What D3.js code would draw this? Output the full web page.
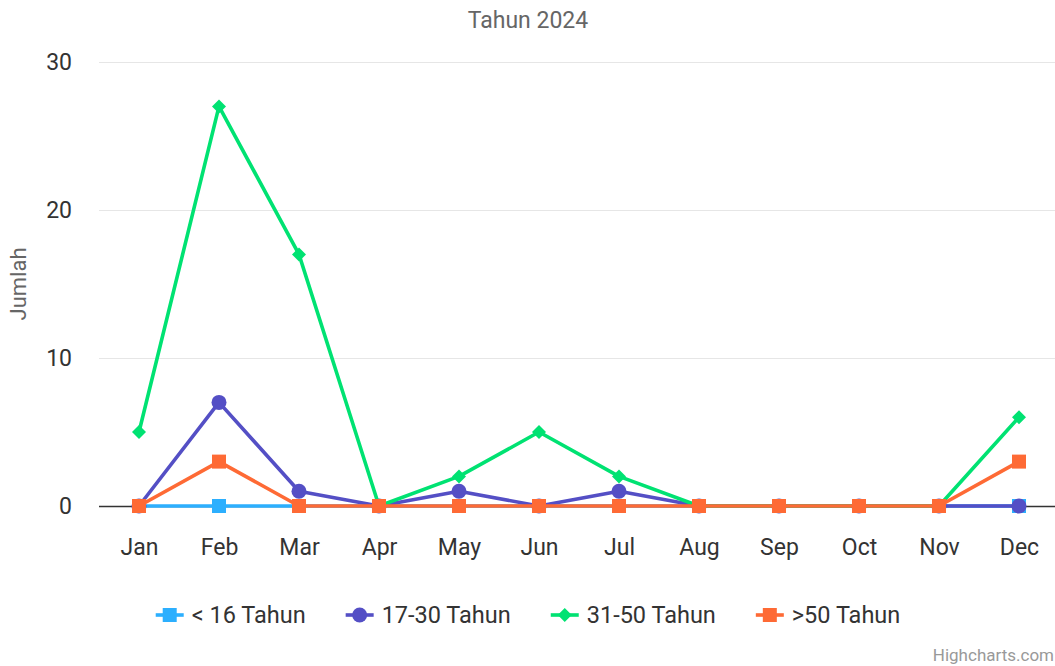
<!DOCTYPE html>
<html>
<head>
<meta charset="utf-8">
<script src="https://cdn.jsdelivr.net/npm/d3@7"></script>
<style>
  body { margin: 0; background: #fff; }
  svg { display: block; font-family: Roboto, "Noto Sans", sans-serif; }
</style>
</head>
<body>
<svg id="chart" width="1055" height="666"></svg>
<script>
var MONTHS = ["Jan","Feb","Mar","Apr","May","Jun","Jul","Aug","Sep","Oct","Nov","Dec"];
var SERIES_NAMES = ["< 16 Tahun", "17-30 Tahun", "31-50 Tahun", ">50 Tahun"];
var SERIES_COLORS = ["#2caffe", "#544fc5", "#00e272", "#fe6a35"];
var SERIES_SYMBOLS = ["square", "circle", "diamond", "square"];
var UNDER_16 = [0,0,0,0,0,0,0,0,0,0,0,0];
var AGE_17_30 = [0,7,1,0,1,0,1,0,0,0,0,0];
var AGE_31_50 = [5,27,17,0,2,5,2,0,0,0,0,6];
var OVER_50 = [0,3,0,0,0,0,0,0,0,0,0,3];
var Y_TICKS = [0,10,20,30];

var SERIES = [UNDER_16, AGE_17_30, AGE_31_50, OVER_50].map(function(vals, i){
    return {name: SERIES_NAMES[i], color: SERIES_COLORS[i], symbol: SERIES_SYMBOLS[i], values: vals};
});

var svg = d3.select("#chart");
var W = 1055, H = 666;
var plot = {left: 99, right: 1059, top: 62, bottom: 506};

var x = d3.scalePoint()
    .domain(MONTHS)
    .range([plot.left, plot.right])
    .padding(0.5);

var y = d3.scaleLinear()
    .domain([0, 30])
    .range([plot.bottom, plot.top]);

// title
svg.append("text")
    .attr("x", 528).attr("y", 28)
    .attr("text-anchor", "middle")
    .attr("fill", "#666")
    .style("font-size", "23px")
    .text("Tahun 2024");

// grid
svg.append("g").selectAll("line")
    .data(Y_TICKS.filter(function(d){ return d > 0; }))
    .enter().append("line")
    .attr("x1", plot.left).attr("x2", W)
    .attr("y1", function(d){ return y(d) + 0.5; })
    .attr("y2", function(d){ return y(d) + 0.5; })
    .attr("stroke", "#e6e6e6")
    .attr("stroke-width", 1);

// y axis labels
var yAxis = svg.append("g")
    .attr("transform", "translate(" + (plot.left - 27) + ",0)")
    .call(d3.axisLeft(y).tickValues(Y_TICKS).tickSize(0).tickPadding(0));
yAxis.select(".domain").remove();
yAxis.selectAll("text")
    .attr("fill", "#333")
    .style("font-size", "23px")
    .style("font-family", "Roboto, sans-serif");

// y axis title
svg.append("text")
    .attr("transform", "translate(26," + ((plot.top + plot.bottom) / 2) + ") rotate(-90)")
    .attr("text-anchor", "middle")
    .attr("fill", "#666")
    .style("font-size", "22px")
    .text("Jumlah");

// x axis
var xAxis = svg.append("g")
    .attr("transform", "translate(0," + plot.bottom + ")")
    .call(d3.axisBottom(x).tickSize(0).tickPadding(33));
xAxis.select(".domain").remove();
xAxis.selectAll("text")
    .attr("fill", "#333")
    .style("font-size", "23px")
    .style("font-family", "Roboto, sans-serif");

svg.append("line")
    .attr("x1", plot.left).attr("x2", W)
    .attr("y1", plot.bottom + 0.5).attr("y2", plot.bottom + 0.5)
    .attr("stroke", "#333")
    .attr("stroke-width", 1.5);

function symbolPath(sym){
    if(sym == "circle") return d3.symbol().type(d3.symbolCircle).size(Math.PI * 7.5 * 7.5)();
    if(sym == "diamond") return "M0,-7L7,0L0,7L-7,0Z";
    return "M-7,-7L7,-7L7,7L-7,7Z";
}

var line = d3.line()
    .x(function(d, i){ return x(MONTHS[i]); })
    .y(function(d){ return y(d); });

// series
var groups = svg.append("g").selectAll("g.series")
    .data(SERIES)
    .enter().append("g")
    .attr("class", "series");

groups.append("path")
    .attr("d", function(d){ return line(d.values); })
    .attr("fill", "none")
    .attr("stroke", function(d){ return d.color; })
    .attr("stroke-width", 3.6)
    .attr("stroke-linejoin", "round")
    .attr("stroke-linecap", "round");

groups.each(function(s){
    d3.select(this).selectAll("path.marker")
        .data(s.values)
        .enter().append("path")
        .attr("class", "marker")
        .attr("d", symbolPath(s.symbol))
        .attr("transform", function(d, i){ return "translate(" + x(MONTHS[i]) + "," + y(d) + ")"; })
        .attr("fill", s.color);
});

// legend
var legend = svg.append("g");
var lx = 0;
var items = legend.selectAll("g.item")
    .data(SERIES)
    .enter().append("g")
    .attr("class", "item");

items.append("line")
    .attr("x1", 0).attr("x2", 28)
    .attr("y1", 0).attr("y2", 0)
    .attr("stroke", function(d){ return d.color; })
    .attr("stroke-width", 3.6);
items.append("path")
    .attr("d", function(d){ return symbolPath(d.symbol); })
    .attr("transform", "translate(14,0)")
    .attr("fill", function(d){ return d.color; });
items.append("text")
    .attr("x", 36).attr("y", 8)
    .attr("fill", "#333")
    .style("font-size", "23.5px")
    .text(function(d){ return d.name; });

items.each(function(){
    var w = this.getBBox().width;
    d3.select(this).attr("transform", "translate(" + lx + ",615)");
    lx += w + 40;
});
var total = lx - 40;
legend.attr("transform", "translate(" + (528 - total / 2) + ",0)");

// credits
svg.append("text")
    .attr("x", 1054).attr("y", 661)
    .attr("text-anchor", "end")
    .attr("fill", "#999")
    .style("font-size", "17px")
    .text("Highcharts.com");
</script>
</body>
</html>
